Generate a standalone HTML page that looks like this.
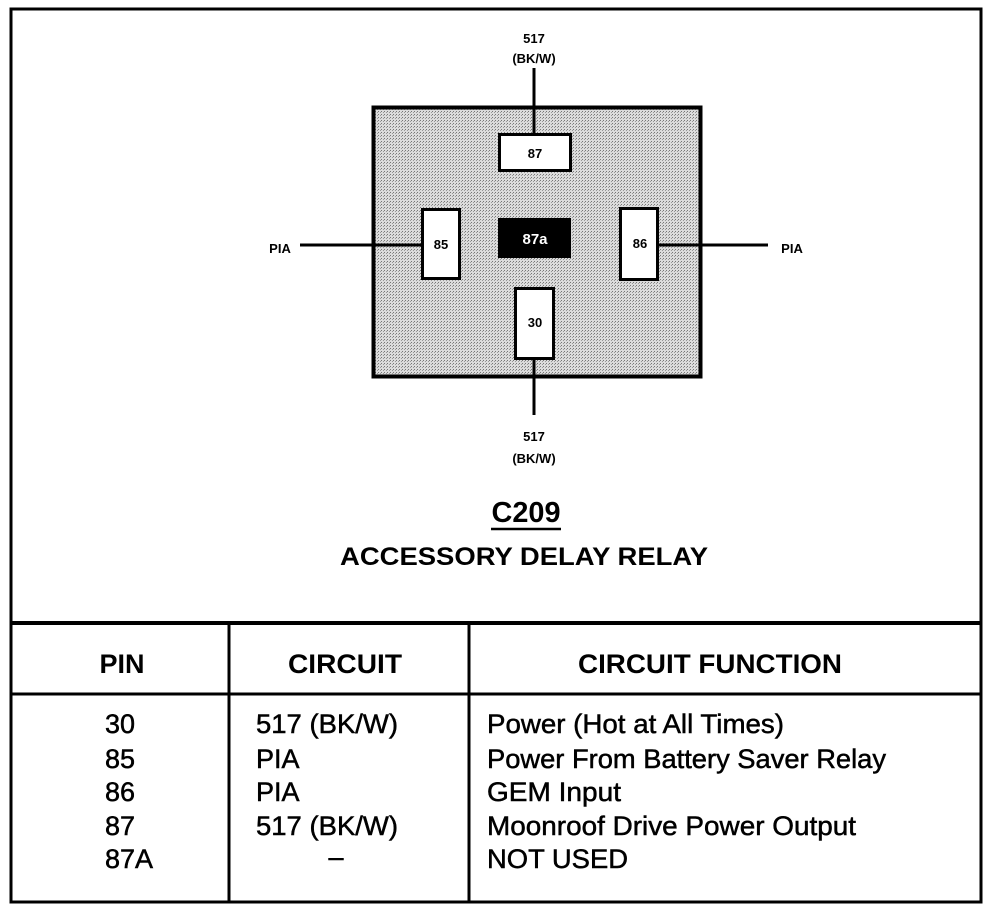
<!DOCTYPE html>
<html><head><meta charset="utf-8"><style>
html,body{margin:0;padding:0;background:#fff;}
svg{display:block;}
text{font-family:"Liberation Sans",Arial,sans-serif;fill:#000;}
.b{stroke:#000;stroke-width:0.5px;}
</style></head><body>
<svg width="992" height="912" viewBox="0 0 992 912" xmlns="http://www.w3.org/2000/svg">
<defs>
<pattern id="dots" width="3" height="3" patternUnits="userSpaceOnUse">
<rect width="3" height="3" fill="#dcdcdc"/>
<rect width="1" height="1" fill="#777"/>
<rect x="2" y="1" width="1" height="1" fill="#999"/>
</pattern>
</defs>
<rect x="11" y="9" width="970" height="893" fill="none" stroke="#000" stroke-width="3"/>
<line x1="10" y1="623" x2="982" y2="623" stroke="#000" stroke-width="4"/>
<line x1="10" y1="694" x2="982" y2="694" stroke="#000" stroke-width="3"/>
<line x1="229" y1="623" x2="229" y2="902" stroke="#000" stroke-width="3"/>
<line x1="469" y1="623" x2="469" y2="902" stroke="#000" stroke-width="3"/>

<line x1="534" y1="68" x2="534" y2="134" stroke="#000" stroke-width="3"/>
<line x1="534" y1="358" x2="534" y2="415" stroke="#000" stroke-width="3"/>
<line x1="300" y1="245" x2="422" y2="245" stroke="#000" stroke-width="3"/>
<line x1="657" y1="245" x2="768" y2="245" stroke="#000" stroke-width="3"/>

<rect x="373.5" y="107.5" width="327" height="269" fill="url(#dots)" stroke="#000" stroke-width="4"/>
<line x1="534" y1="107" x2="534" y2="134" stroke="#000" stroke-width="3"/>
<line x1="534" y1="358" x2="534" y2="377" stroke="#000" stroke-width="3"/>
<line x1="373" y1="245" x2="422" y2="245" stroke="#000" stroke-width="3"/>
<line x1="657" y1="245" x2="701" y2="245" stroke="#000" stroke-width="3"/>

<rect x="499.5" y="134.5" width="71" height="36" fill="#fff" stroke="#000" stroke-width="3"/>
<text x="535" y="158" font-size="13" font-weight="bold" text-anchor="middle">87</text>
<rect x="498" y="218" width="73" height="40" fill="#000"/>
<text x="535" y="244" font-size="15" font-weight="bold" text-anchor="middle" style="fill:#fff">87a</text>
<rect x="422.5" y="209.5" width="37" height="69" fill="#fff" stroke="#000" stroke-width="3"/>
<text x="441" y="249" font-size="13" font-weight="bold" text-anchor="middle">85</text>
<rect x="620.5" y="208.5" width="37" height="71" fill="#fff" stroke="#000" stroke-width="3"/>
<text x="640" y="248" font-size="13" font-weight="bold" text-anchor="middle">86</text>
<rect x="515.5" y="288.5" width="38" height="70" fill="#fff" stroke="#000" stroke-width="3"/>
<text x="535" y="327" font-size="13" font-weight="bold" text-anchor="middle">30</text>

<text x="534" y="43" font-size="13" font-weight="bold" text-anchor="middle">517</text>
<text x="534" y="63" font-size="13" font-weight="bold" text-anchor="middle">(BK/W)</text>
<text x="534" y="441" font-size="13" font-weight="bold" text-anchor="middle">517</text>
<text x="534" y="463" font-size="13" font-weight="bold" text-anchor="middle">(BK/W)</text>
<text x="280" y="253" font-size="13" font-weight="bold" text-anchor="middle">PIA</text>
<text x="792" y="253" font-size="13" font-weight="bold" text-anchor="middle">PIA</text>

<text x="526" y="522" font-size="29" font-weight="bold" text-anchor="middle" textLength="69" lengthAdjust="spacingAndGlyphs">C209</text>
<line x1="491" y1="529" x2="561" y2="529" stroke="#000" stroke-width="2.5"/>
<text x="524" y="565" font-size="25" font-weight="bold" text-anchor="middle" textLength="368" lengthAdjust="spacingAndGlyphs">ACCESSORY DELAY RELAY</text>

<text x="122" y="673" font-size="27" font-weight="bold" text-anchor="middle">PIN</text>
<text x="345" y="673" font-size="27" font-weight="bold" text-anchor="middle" textLength="114" lengthAdjust="spacingAndGlyphs">CIRCUIT</text>
<text x="710" y="673" font-size="27" font-weight="bold" text-anchor="middle" textLength="264" lengthAdjust="spacingAndGlyphs">CIRCUIT FUNCTION</text>

<g font-size="27" class="b">
<text x="105" y="733">30</text>
<text x="105" y="768">85</text>
<text x="105" y="801">86</text>
<text x="105" y="835">87</text>
<text x="105" y="868">87A</text>
<text x="256" y="733" textLength="142" lengthAdjust="spacingAndGlyphs">517 (BK/W)</text>
<text x="256" y="768">PIA</text>
<text x="256" y="801">PIA</text>
<text x="256" y="835" textLength="142" lengthAdjust="spacingAndGlyphs">517 (BK/W)</text>
<text x="336" y="866" text-anchor="middle">–</text>
<text x="487" y="733" textLength="297" lengthAdjust="spacingAndGlyphs">Power (Hot at All Times)</text>
<text x="487" y="768" textLength="399" lengthAdjust="spacingAndGlyphs">Power From Battery Saver Relay</text>
<text x="487" y="801" textLength="134" lengthAdjust="spacingAndGlyphs">GEM Input</text>
<text x="487" y="835" textLength="369" lengthAdjust="spacingAndGlyphs">Moonroof Drive Power Output</text>
<text x="487" y="868" textLength="141" lengthAdjust="spacingAndGlyphs">NOT USED</text>
</g>
</svg>
</body></html>
